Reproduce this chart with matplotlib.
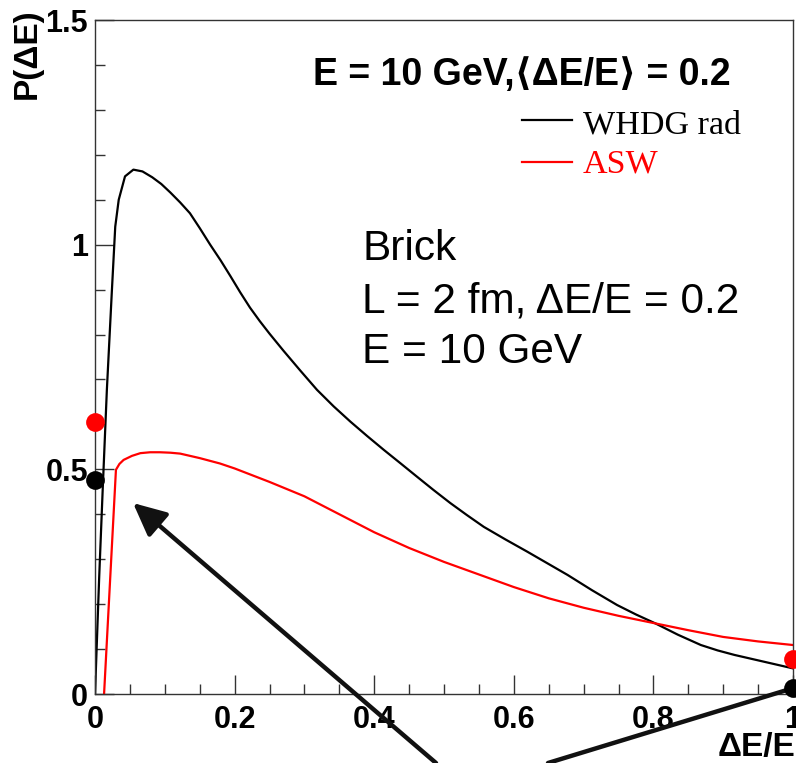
import matplotlib
matplotlib.use("Agg")
import matplotlib.pyplot as plt
from matplotlib.ticker import MultipleLocator, FuncFormatter

# energy loss fraction and probability, WHDG radiative
whdg_x = [0.0, 0.006, 0.011, 0.017, 0.024, 0.029, 0.034, 0.043, 0.055, 0.068,
          0.082, 0.095, 0.108, 0.122, 0.136, 0.15, 0.165, 0.18, 0.194, 0.208,
          0.222, 0.236, 0.25, 0.27, 0.294, 0.318, 0.342, 0.366, 0.39, 0.414,
          0.438, 0.461, 0.485, 0.509, 0.533, 0.557, 0.588, 0.619, 0.648, 0.677,
          0.712, 0.748, 0.775, 0.803, 0.835, 0.868, 0.892, 0.916, 0.958, 1.0]
whdg_p = [0.0, 0.26, 0.454, 0.677, 0.892, 1.04, 1.10, 1.152, 1.167, 1.163,
          1.150, 1.135, 1.116, 1.094, 1.07, 1.037, 1.0, 0.965, 0.93, 0.894,
          0.86, 0.83, 0.802, 0.764, 0.72, 0.677, 0.64, 0.606, 0.574, 0.543,
          0.513, 0.484, 0.454, 0.425, 0.398, 0.372, 0.344, 0.317, 0.291, 0.265,
          0.231, 0.198, 0.177, 0.157, 0.132, 0.109, 0.097, 0.087, 0.072, 0.057]

# ASW
asw_x = [0.013, 0.030, 0.035, 0.041, 0.053, 0.065, 0.079, 0.093, 0.108, 0.122,
         0.15, 0.179, 0.20, 0.25, 0.3, 0.35, 0.4, 0.45, 0.5, 0.55,
         0.6, 0.65, 0.7, 0.75, 0.8, 0.85, 0.9, 0.95, 1.0]
asw_p = [0.0, 0.499, 0.512, 0.521, 0.530, 0.536, 0.538, 0.538, 0.537, 0.535,
         0.525, 0.513, 0.502, 0.472, 0.44, 0.40, 0.36, 0.325, 0.294, 0.266,
         0.238, 0.213, 0.192, 0.174, 0.158, 0.142, 0.127, 0.117, 0.109]

# discrete weights at dE/E = 0 (no loss) and 1 (full absorption)
whdg_ends_x = [0.0, 1.0]
whdg_ends_p = [0.477, 0.013]
asw_ends_x = [0.0, 1.0]
asw_ends_p = [0.606, 0.078]

plt.rcParams['font.family'] = ['Liberation Sans', 'DejaVu Sans']

fig = plt.figure(figsize=(7.96, 7.63), dpi=100)
ax = fig.add_axes([95/796, 69/763, 698/796, 674/763])

ax.plot(whdg_x, whdg_p, color='black', lw=1.6)
ax.plot(asw_x, asw_p, color='red', lw=1.6)
ax.plot(asw_ends_x, asw_ends_p, 'o', color='red', ms=13.5, mec='none', clip_on=False, zorder=5)
ax.plot(whdg_ends_x, whdg_ends_p, 'o', color='black', ms=13.5, mec='none', clip_on=False, zorder=5)

ax.set_xlim(0, 1)
ax.set_ylim(0, 1.5)
ax.xaxis.set_major_locator(MultipleLocator(0.2))
ax.xaxis.set_minor_locator(MultipleLocator(0.05))
ax.yaxis.set_major_locator(MultipleLocator(0.5))
ax.yaxis.set_minor_locator(MultipleLocator(0.1))
fmt = FuncFormatter(lambda v, p: f"{v:g}")
ax.xaxis.set_major_formatter(fmt)
ax.yaxis.set_major_formatter(fmt)
ax.tick_params(which='both', direction='in', color='#333333', width=1.0,
               labelsize=22)
ax.tick_params(which='major', length=14)
ax.tick_params(which='minor', length=7)
ax.tick_params(axis='x', pad=8)
ax.tick_params(axis='y', pad=5)
for lab in ax.get_xticklabels() + ax.get_yticklabels():
    lab.set_fontweight('bold')
for sp in ax.spines.values():
    sp.set_color('#333333')
    sp.set_linewidth(1.0)

# axis titles
fig.text(27/796, 1 - 54/763, 'P(ΔE)', rotation=90, ha='center', va='center',
         fontsize=24, fontweight='bold')
fig.text(795/796, 0.0, 'ΔE/E', ha='right', va='bottom',
         fontsize=24, fontweight='bold')

# header and legend
ax.text(0.91, 0.9036, 'E = 10 GeV,⟨ΔE/E⟩ = 0.2', transform=ax.transAxes,
        ha='right', va='baseline', fontsize=27, fontweight='bold')
ax.plot([0.612, 0.683], [0.851, 0.851], color='black', lw=1.6, transform=ax.transAxes)
ax.plot([0.612, 0.683], [0.79, 0.79], color='red', lw=1.6, transform=ax.transAxes)
ax.text(0.699, 0.832, 'WHDG rad', transform=ax.transAxes, ha='left', va='baseline',
        fontsize=24.5, family='Liberation Serif', color='black')
ax.text(0.699, 0.773, 'ASW', transform=ax.transAxes, ha='left', va='baseline',
        fontsize=24.5, family='Liberation Serif', color='red')

# brick parameters
for txt, base in [('Brick', 260), ('L = 2 fm, ΔE/E = 0.2', 312), ('E = 10 GeV', 363)]:
    ax.text((362 - 95)/698, (694 - base)/674, txt, transform=ax.transAxes,
            ha='left', va='baseline', fontsize=30.5)

# arrows from below the frame to the distributions
ax.annotate('', xy=(0.0545, 0.425), xycoords='data',
            xytext=(436/796, 0.0), textcoords='figure fraction',
            arrowprops=dict(arrowstyle='-|>,head_length=2.0,head_width=0.95',
                            color='#111111', lw=3.2, shrinkA=0, shrinkB=0),
            annotation_clip=False)
ax.annotate('', xy=(1.0, 0.013), xycoords='data',
            xytext=(548/796, 0.0), textcoords='figure fraction',
            arrowprops=dict(arrowstyle='-', color='#111111', lw=3.2,
                            shrinkA=0, shrinkB=0),
            annotation_clip=False)

fig.savefig('out.png', dpi=100)
